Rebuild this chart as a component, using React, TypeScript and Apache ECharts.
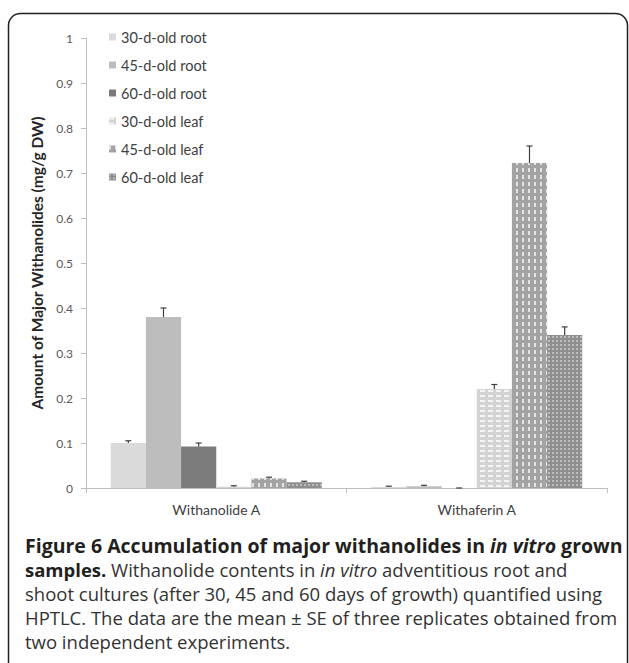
import React, { useEffect, useRef } from "react";
import * as echarts from "echarts";

const categories = ["Withanolide A", "Withaferin A"];
const seriesNames = [
  "30-d-old root",
  "45-d-old root",
  "60-d-old root",
  "30-d-old leaf",
  "45-d-old leaf",
  "60-d-old leaf",
];
const root30 = [0.1, 0.002];
const root45 = [0.38, 0.004];
const root60 = [0.092, 0.0];
const leaf30 = [0.003, 0.22];
const leaf45 = [0.021, 0.722];
const leaf60 = [0.013, 0.34];
const root30Err = [0.005, 0.002];
const root45Err = [0.02, 0.002];
const root60Err = [0.008, 0.0];
const leaf30Err = [0.002, 0.01];
const leaf45Err = [0.003, 0.038];
const leaf60Err = [0.002, 0.018];
const yTicks = [0, 0.1, 0.2, 0.3, 0.4, 0.5, 0.6, 0.7, 0.8, 0.9, 1];

const values = [root30, root45, root60, leaf30, leaf45, leaf60];
const errors = [root30Err, root45Err, root60Err, leaf30Err, leaf45Err, leaf60Err];

const colors = ["#dadada", "#bdbdbd", "#7b7b7b", "#d3d3d3", "#a3a3a3", "#8e8e8e"];
const decals: any[] = [
  null,
  null,
  null,
  { symbol: "rect", symbolSize: 1, color: "rgba(255,255,255,0.75)", dashArrayX: [5, 3], dashArrayY: [1.5, 3] },
  { symbol: "rect", symbolSize: 1, color: "rgba(255,255,255,0.7)", dashArrayX: [1.5, 4], dashArrayY: [4, 3] },
  { symbol: "rect", symbolSize: 1, color: "rgba(200,200,200,0.8)", dashArrayX: [1.5, 1.5], dashArrayY: [1.5, 1.5] },
];

const CAT_GAP = 0.19;
const FONT = "Lato, 'Open Sans', sans-serif";
const CAP_FONT = "'Open Sans', 'Noto Sans', sans-serif";

export default function App() {
  const ref = useRef<HTMLDivElement>(null);
  useEffect(() => {
    if (!ref.current) return;
    const chart = echarts.init(ref.current, undefined, { renderer: "svg" });

    const barSeries = seriesNames.map((name, i) => {
      const s: any = {
        name,
        type: "bar",
        data: values[i],
        barGap: "0%",
        barCategoryGap: (CAT_GAP * 100).toFixed(0) + "%",
        itemStyle: { color: colors[i] },
      };
      if (decals[i]) s.itemStyle.decal = decals[i];
      return s;
    });

    const errSeries = seriesNames.map((name, i) => ({
      name: name + " err",
      type: "custom",
      z: 10,
      data: values[i].map((v, c) => [c, v, errors[i][c]]),
      encode: { x: 0, y: 1 },
      renderItem: (params: any, api: any) => {
        const c = api.value(0);
        const v = api.value(1);
        const e = api.value(2);
        const base = api.coord([c, v]);
        const top = api.coord([c, v + e]);
        const catW = api.size([1, 0])[0];
        const groupW = catW * (1 - CAT_GAP);
        const barW = groupW / 6;
        const x = base[0] - groupW / 2 + barW * (i + 0.5);
        const cap = 3;
        return {
          type: "group",
          children: [
            { type: "line", shape: { x1: x, y1: base[1], x2: x, y2: top[1] }, style: { stroke: "#404040", lineWidth: 1.2 } },
            { type: "line", shape: { x1: x - cap, y1: top[1], x2: x + cap, y2: top[1] }, style: { stroke: "#404040", lineWidth: 1.2 } },
          ],
        };
      },
    }));

    const BS = 19.5;
    const RS = 18.5;
    const capRich = {
      b: { fontFamily: CAP_FONT, fontSize: BS, fontWeight: "bold", fill: "#231f20" },
      bi: { fontFamily: CAP_FONT, fontSize: BS, fontWeight: "bold", fontStyle: "italic", fill: "#231f20" },
      bs: { fontFamily: CAP_FONT, fontSize: RS, fontWeight: "bold", fill: "#231f20" },
      r: { fontFamily: CAP_FONT, fontSize: RS, fill: "#333333" },
      i: { fontFamily: CAP_FONT, fontSize: RS, fontStyle: "italic", fill: "#333333" },
    };
    const capLines = [
      "{b|Figure 6 Accumulation of major withanolides in }{bi|in vitro}{b| grown}",
      "{bs|samples.}{r| Withanolide contents in }{i|in vitro}{r| adventitious root and}",
      "{r|shoot cultures (after 30, 45 and 60 days of growth) quantified using}",
      "{r|HPTLC. The data are the mean ± SE of three replicates obtained from}",
      "{r|two independent experiments.}",
    ];
    const capY = [545, 569, 593, 617, 641];

    chart.setOption({
      animation: false,
      grid: { left: 86, right: 22, top: 38, bottom: 175 },
      legend: {
        data: seriesNames,
        orient: "vertical",
        left: 104,
        top: 24,
        itemWidth: 7,
        itemHeight: 7,
        itemGap: 12,
        icon: "rect",
        textStyle: { fontFamily: FONT, fontSize: 14.5, color: "#404040", lineHeight: 16 },
      },
      xAxis: {
        type: "category",
        data: categories,
        axisLine: { lineStyle: { color: "#bfbfbf" } },
        axisTick: { show: true, length: 5, lineStyle: { color: "#bfbfbf" } },
        axisLabel: { fontFamily: FONT, fontSize: 14, color: "#404040", margin: 14 },
      },
      yAxis: {
        type: "value",
        min: 0,
        max: 1,
        interval: 0.1,
        name: "Amount of Major Withanolides (mg/g DW)",
        nameLocation: "middle",
        nameGap: 33,
        nameTextStyle: { fontFamily: FONT, fontSize: 15.5, fontWeight: "bold", color: "#262626" },
        axisLine: { show: true, lineStyle: { color: "#bfbfbf" } },
        axisTick: { show: true, length: 5, lineStyle: { color: "#bfbfbf" } },
        splitLine: { show: false },
        axisLabel: {
          fontFamily: FONT,
          fontSize: 12,
          color: "#595959",
          margin: 13,
          formatter: (v: number) => {
            const t = yTicks.find((k) => Math.abs(k - v) < 1e-9);
            return t === undefined ? "" : String(Math.round(t * 10) / 10);
          },
        },
      },
      graphic: [
        {
          type: "rect",
          shape: { x: 8.5, y: 13.5, width: 619, height: 720, r: 12 },
          style: { fill: "none", stroke: "#231f20", lineWidth: 1.5 },
          silent: true,
        },
        ...capLines.map((t, k) => ({
          type: "text",
          x: 25,
          y: capY[k],
          style: { text: t, rich: capRich, verticalAlign: "middle", textVerticalAlign: "middle" },
          silent: true,
        })),
      ],
      series: [...barSeries, ...errSeries],
    });
    return () => chart.dispose();
  }, []);
  return (
    <div
      ref={ref}
      style={{ position: "fixed", left: 0, top: 0, width: 629, height: 663, background: "#fff" }}
    />
  );
}
